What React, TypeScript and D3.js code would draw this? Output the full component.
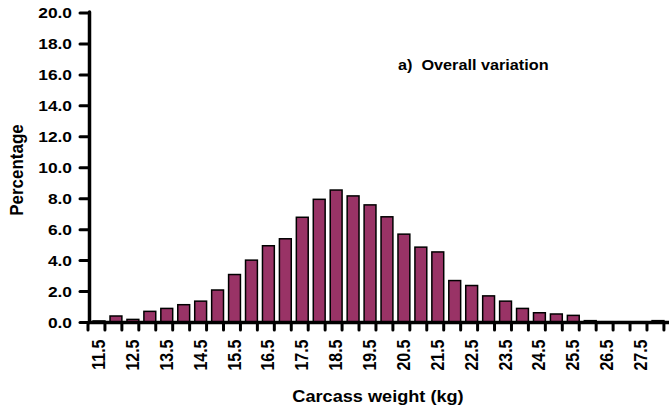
import React from "react";
import * as d3 from "d3";

const WIDTH = 669;
const HEIGHT = 414;
const MARGIN = { top: 13, right: 0, bottom: 91.5, left: 88 };

// carcass weight classes (kg) and share of carcasses (%)
const weights = [
  11.5, 12, 12.5, 13, 13.5, 14, 14.5, 15, 15.5, 16, 16.5, 17, 17.5, 18, 18.5,
  19, 19.5, 20, 20.5, 21, 21.5, 22, 22.5, 23, 23.5, 24, 24.5, 25, 25.5, 26,
  26.5, 27, 27.5, 28,
];
const percentages = [
  0.1, 0.42, 0.2, 0.72, 0.91, 1.15, 1.38, 2.1, 3.1, 4.03, 4.96, 5.41, 6.8,
  7.96, 8.56, 8.18, 7.6, 6.83, 5.71, 4.87, 4.56, 2.71, 2.39, 1.72, 1.38, 0.91,
  0.63, 0.55, 0.46, 0.12, 0.05, 0.05, 0.05, 0.12,
];
const yTicks = [0, 2, 4, 6, 8, 10, 12, 14, 16, 18, 20];

const FONT = "'Liberation Sans', Arial, sans-serif";

const App = () => {
  const boundsWidth = WIDTH - MARGIN.left - MARGIN.right;
  const boundsHeight = HEIGHT - MARGIN.top - MARGIN.bottom;
  const cats = weights.map((w) => w.toFixed(1));

  const xScale = d3.scaleBand().domain(cats).range([0, boundsWidth]).padding(0.3);
  const yScale = d3.scaleLinear().domain([0, 20]).range([boundsHeight, 0]);
  const step = xScale.step();

  const bars = percentages.map((p, i) => {
    const x = xScale(cats[i]);
    if (x === undefined) return null;
    return (
      <rect
        key={i}
        x={x}
        width={xScale.bandwidth()}
        y={yScale(p)}
        height={boundsHeight - yScale(p)}
        fill="#993366"
        stroke="#000"
        strokeWidth={1.5}
      />
    );
  });

  const xTicks = d3.range(cats.length + 1).map((i) => (
    <line
      key={i}
      x1={i * step}
      x2={i * step}
      y1={boundsHeight}
      y2={boundsHeight + 7.5}
      stroke="#000"
      strokeWidth={3}
      strokeLinecap="round"
    />
  ));

  const xLabels = cats.map((c, i) =>
    i % 2 === 0 ? (
      <text
        key={c}
        transform={`translate(${(xScale(c) ?? 0) + xScale.bandwidth() / 2 + 6},${boundsHeight + 17}) rotate(-90) scale(1,1.1)`}
        textAnchor="end"
        fontSize={16}
        fontWeight="bold"
      >
        {c}
      </text>
    ) : null
  );

  const grid = yTicks.map((v) => (
    <g key={v}>
      <line
        x1={-8}
        x2={0}
        y1={yScale(v)}
        y2={yScale(v)}
        stroke="#000"
        strokeWidth={3}
        strokeLinecap="round"
      />
      <text
        transform={`translate(-16,${yScale(v)}) scale(1.12,1)`}
        dy="0.35em"
        textAnchor="end"
        fontSize={15.5}
        fontWeight="bold"
      >
        {v.toFixed(1)}
      </text>
    </g>
  ));

  return (
    <svg
      width={WIDTH}
      height={HEIGHT}
      style={{ position: "absolute", left: 0, top: 0, fontFamily: FONT }}
    >
      <rect width={WIDTH} height={HEIGHT} fill="#fff" />
      <g transform={`translate(${MARGIN.left},${MARGIN.top})`}>
        {bars}
        {grid}
        {xTicks}
        <line x1={1.5} x2={1.5} y1={-1} y2={boundsHeight} stroke="#000" strokeWidth={3.5} strokeLinecap="round" />
        <line x1={0} x2={boundsWidth + 2} y1={boundsHeight} y2={boundsHeight} stroke="#000" strokeWidth={3.5} />
        {xLabels}
      </g>
      <text x={398} y={70} fontSize={14.5} fontWeight="bold" transform="translate(398,0) scale(1.12,1) translate(-398,0)">
        a)&#160;&#160;Overall variation
      </text>
      <text
        transform="translate(23,170) rotate(-90) scale(1,1.12)"
        textAnchor="middle"
        fontSize={17}
        fontWeight="bold"
      >
        Percentage
      </text>
      <text
        transform="translate(378,402) scale(1.1,1)"
        textAnchor="middle"
        fontSize={16.5}
        fontWeight="bold"
      >
        Carcass weight (kg)
      </text>
    </svg>
  );
};

export default App;
